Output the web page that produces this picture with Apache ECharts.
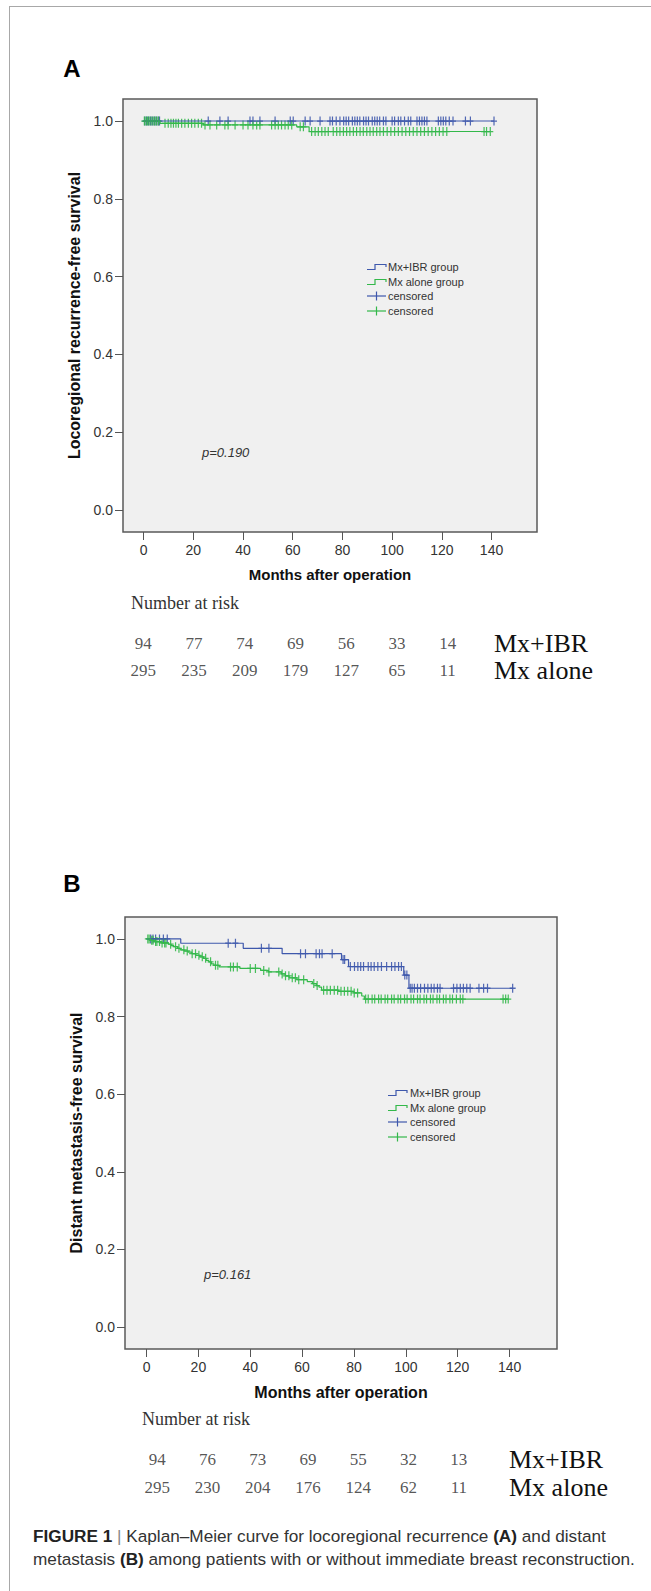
<!DOCTYPE html>
<html>
<head>
<meta charset="utf-8">
<script src="https://cdn.jsdelivr.net/npm/echarts@6/dist/echarts.min.js"></script>
<style>html,body{margin:0;padding:0;background:#fff}#c{width:651px;height:1591px}</style>
</head>
<body>
<div id="c"></div>
<script>
// ---------- data ----------
const xTicks = [0, 20, 40, 60, 80, 100, 120, 140];
const yTicks = [0, 0.2, 0.4, 0.6, 0.8, 1.0];
const riskSlots = ['0', '20', '40', '60', '80', '100', '120'];
const groupNames = ['Mx+IBR', 'Mx alone'];
const legendNames = ['Mx+IBR group', 'Mx alone group', 'censored', 'censored'];

// Panel A: locoregional recurrence
const aIbrStepT = [0, 141];
const aIbrStepS = [1, 1];
const aAloneStepT = [0, 6.6, 24, 61.6, 66.6, 139.5];
const aAloneStepS = [1, 0.994, 0.990, 0.985, 0.973, 0.973];
const aIbrCens = [0.5, 1.2, 2, 2.8, 3.5, 4.3, 5, 5.8, 6.4, 26, 30.7, 34, 42.8, 44, 46.8, 52.9, 59, 60.2, 65, 67, 71, 75, 76, 77.5, 79, 80.5, 81.5, 82.5, 84, 85, 86, 87, 88.5, 89.5, 90.5, 92, 93, 94, 95, 96.5, 97.5, 100, 101, 102.5, 103.5, 105, 106.5, 107.5, 110, 111, 112, 113, 114, 118.6, 119.6, 120.6, 121.6, 123, 124.5, 129.5, 131.5, 141];
const aAloneCens = [0.3, 1, 1.6, 2.2, 3, 3.8, 4.5, 5.2, 6, 8.6, 9.9, 11, 12, 13, 14, 15.3, 16.6, 18, 19.3, 20.6, 22, 23.3, 24.7, 26.7, 29.4, 32.7, 34, 36.8, 40, 42, 44, 45.5, 46.8, 51.5, 52.9, 54.2, 55.5, 56.9, 58.2, 59.6, 63, 64.3, 67.6, 69, 70.3, 71.7, 73, 74.3, 76.3, 77.7, 79, 80.4, 81.7, 83, 84.4, 85.7, 87.1, 88.4, 89.8, 91.1, 92.4, 93.8, 95.1, 96.5, 98, 99.5, 101, 102.5, 104, 105.5, 107, 108.5, 110, 111.5, 113, 114.5, 116, 117.5, 119, 120.5, 122, 137, 138, 139.5];
const aRiskIbr = [94, 77, 74, 69, 56, 33, 14];
const aRiskAlone = [295, 235, 209, 179, 127, 65, 11];
const aPText = 'p=0.190';
const aYName = 'Locoregional recurrence-free survival';

// Panel B: distant metastasis
const bIbrStepT = [0, 13.2, 37.3, 52.3, 75.2, 77.9, 99.2, 101.2, 141.2];
const bIbrStepS = [1, 0.989, 0.976, 0.962, 0.947, 0.929, 0.907, 0.873, 0.873];
const bAloneStepT = [0, 1.5, 3, 5.5, 8.5, 9.5, 10.5, 12, 13, 14.5, 16, 17.5, 19, 20.5, 22, 23, 24, 25, 26, 28, 36, 44, 47, 52, 53.5, 55, 58, 62, 64, 65.5, 66.5, 67.5, 74, 80, 83, 84, 139.5];
const bAloneStepS = [1, 0.9966, 0.9932, 0.9898, 0.9864, 0.983, 0.980, 0.976, 0.972, 0.969, 0.966, 0.962, 0.958, 0.954, 0.950, 0.945, 0.941, 0.936, 0.932, 0.928, 0.924, 0.919, 0.915, 0.910, 0.905, 0.900, 0.895, 0.890, 0.885, 0.880, 0.876, 0.868, 0.865, 0.861, 0.853, 0.845, 0.845];
const bIbrCens = [1.6, 2.5, 3.5, 5, 6.5, 8, 31.5, 34.3, 44.3, 47.2, 59.4, 61.3, 65.4, 66.7, 67.7, 71.6, 75.8, 76.4, 78.6, 80.2, 81.5, 82.6, 83.7, 85.5, 86.6, 87.8, 89.2, 90.6, 92.6, 94.5, 95.8, 97.2, 98.3, 99.6, 100.4, 101.7, 102.4, 103.3, 104.5, 105.7, 107.2, 108.5, 109.8, 110.9, 112.2, 113.2, 118.4, 119.7, 121, 122.2, 123.5, 124.8, 128.2, 130, 131.5, 141.2];
const bAloneCens = [0.5, 1, 2, 2.5, 3.5, 4, 5, 6, 7, 7.5, 9.3, 11.2, 12.5, 14.4, 15.7, 17.6, 18.9, 20.2, 21.5, 22.8, 24.7, 26.6, 27.5, 32.4, 33.5, 35, 40, 42, 45.2, 47.2, 51, 52.3, 53.6, 54.9, 56.2, 57.4, 58.7, 60.6, 64.5, 65.8, 68.3, 69.6, 70.9, 72.4, 73.7, 75, 76.3, 77.6, 78.9, 80.1, 81.4, 84.5, 85.5, 87, 88, 89.5, 90.5, 92, 93, 94.5, 95.5, 97, 98, 99.5, 100.5, 102, 103, 104.5, 105.5, 107, 108, 109.5, 110.5, 112, 113, 114.5, 115.5, 117, 118, 119.5, 121, 122, 137.5, 138.5, 139.5];
const bRiskIbr = [94, 76, 73, 69, 55, 32, 13];
const bRiskAlone = [295, 230, 204, 176, 124, 62, 11];
const bPText = 'p=0.161';
const bYName = 'Distant metastasis-free survival';

const xName = 'Months after operation';
const riskTitle = 'Number at risk';

// ---------- styling ----------
const BLUE = '#3e58ac';
const GREEN = '#33b84a';
const SANS = 'Liberation Sans, Arial, sans-serif';
const SERIF = 'Liberation Serif, Times New Roman, serif';
const PLUS = 'path://M4,0H6V4.3H10V5.7H6V10H4V5.7H0V4.3H4Z';

function survAt(T, S, t) {
  let s = S[0];
  for (let i = 0; i < T.length; i++) if (T[i] <= t) s = S[i];
  return s;
}
function stepData(T, S) { return T.map((t, i) => [t, S[i]]); }
function censData(cens, T, S) { return cens.map(t => [t, survAt(T, S, t)]); }

function plotX(grid, nameGap, nameSize) {
  return {
    type: 'value', gridIndex: grid, min: -8.3, max: 158.3,
    axisLine: { show: false, onZero: false }, splitLine: { show: false },
    axisTick: { show: true, inside: false, length: 8, customValues: xTicks, lineStyle: { color: '#555', width: 1 } },
    axisLabel: { customValues: xTicks, margin: 11, fontSize: 14, color: '#333', fontFamily: SANS },
    name: xName, nameLocation: 'middle', nameGap: nameGap,
    nameTextStyle: { fontWeight: 'bold', fontSize: nameSize, color: '#111', fontFamily: SANS }
  };
}
function plotY(grid, name, nameGap) {
  return {
    type: 'value', gridIndex: grid, min: -0.0566, max: 1.0566,
    axisLine: { show: false, onZero: false }, splitLine: { show: false },
    axisTick: { show: true, inside: false, length: 8, customValues: yTicks, lineStyle: { color: '#555', width: 1 } },
    axisLabel: { customValues: yTicks, margin: 10, fontSize: 14, color: '#333', fontFamily: SANS, formatter: v => v.toFixed(1) },
    name: name, nameLocation: 'middle', nameGap: nameGap, nameRotate: 90,
    nameTextStyle: { fontWeight: 'bold', fontSize: 16, color: '#111', fontFamily: SANS }
  };
}
function tableX(grid) {
  return { type: 'category', gridIndex: grid, data: riskSlots, show: false };
}
function tableY(grid, margin) {
  return {
    type: 'category', gridIndex: grid, data: groupNames, inverse: true, position: 'right',
    axisLine: { show: false }, axisTick: { show: false }, splitLine: { show: false },
    axisLabel: { interval: 0, margin: margin, fontSize: 26, color: '#111', fontFamily: SERIF, align: 'left', hideOverlap: false }
  };
}
function lineSeries(ax, T, S, color) {
  return { type: 'line', xAxisIndex: ax, yAxisIndex: ax, data: stepData(T, S), step: 'end',
    showSymbol: false, symbol: 'none', lineStyle: { color: color, width: 1.2 }, silent: true };
}
function censSeries(ax, cens, T, S, color) {
  return { type: 'scatter', xAxisIndex: ax, yAxisIndex: ax, data: censData(cens, T, S),
    symbol: PLUS, symbolSize: [6, 9], itemStyle: { color: color, opacity: 0.9 }, silent: true };
}
function riskSeries(ax, vals, row) {
  return { type: 'scatter', xAxisIndex: ax, yAxisIndex: ax, data: vals.map((v, i) => [i, row, v]),
    symbolSize: 1, itemStyle: { color: 'rgba(0,0,0,0)' }, silent: true,
    label: { show: true, position: 'inside', formatter: p => String(p.value[2]), fontSize: 17, color: '#2a2a2a', fontFamily: SERIF } };
}
function legendBlock(x, tx, rows) {
  const els = [];
  const cols = [BLUE, GREEN, BLUE, GREEN];
  rows.forEach((y, i) => {
    if (i < 2) {
      els.push({ type: 'polyline', shape: { points: [[x, y + 2.5], [x + 8, y + 2.5], [x + 8, y - 2.5], [x + 19, y - 2.5], [x + 19, y]] },
        style: { stroke: cols[i], lineWidth: 1.2, fill: null }, silent: true });
    } else {
      els.push({ type: 'line', shape: { x1: x, y1: y, x2: x + 19, y2: y }, style: { stroke: cols[i], lineWidth: 1.2 }, silent: true });
      els.push({ type: 'line', shape: { x1: x + 9.5, y1: y - 4.5, x2: x + 9.5, y2: y + 4.5 }, style: { stroke: cols[i], lineWidth: 1.2 }, silent: true });
    }
    els.push({ type: 'text', x: tx, y: y, style: { text: legendNames[i], fontSize: 11, fill: '#333', fontFamily: SANS, verticalAlign: 'middle' }, silent: true });
  });
  return els;
}

const chart = echarts.init(document.getElementById('c'), null, { renderer: 'svg', width: 651, height: 1591 });

const CAP = 17.2;
const graphics = [
  { type: 'line', shape: { x1: 9.5, y1: 6, x2: 9.5, y2: 1591 }, style: { stroke: '#a8a8a8', lineWidth: 1 }, silent: true },
  { type: 'line', shape: { x1: 9.5, y1: 6.5, x2: 651, y2: 6.5 }, style: { stroke: '#a8a8a8', lineWidth: 1 }, silent: true },
  { type: 'text', x: 72, y: 68, style: { text: 'A', fontSize: 24, fontWeight: 'bold', fill: '#000', fontFamily: SANS, align: 'center', verticalAlign: 'middle' }, silent: true },
  { type: 'text', x: 72, y: 883, style: { text: 'B', fontSize: 24, fontWeight: 'bold', fill: '#000', fontFamily: SANS, align: 'center', verticalAlign: 'middle' }, silent: true },
  { type: 'text', x: 202, y: 452.5, style: { text: aPText, fontSize: 13, fontStyle: 'italic', fill: '#333', fontFamily: SANS, verticalAlign: 'middle' }, silent: true },
  { type: 'text', x: 204, y: 1274, style: { text: bPText, fontSize: 13, fontStyle: 'italic', fill: '#333', fontFamily: SANS, verticalAlign: 'middle' }, silent: true },
  { type: 'text', x: 131, y: 603, style: { text: riskTitle, fontSize: 18, fill: '#333', fontFamily: SERIF, verticalAlign: 'middle' }, silent: true },
  { type: 'text', x: 142, y: 1419, style: { text: riskTitle, fontSize: 18, fill: '#333', fontFamily: SERIF, verticalAlign: 'middle' }, silent: true },
  { type: 'text', x: 33, y: 1536, style: {
      text: '{b|FIGURE 1} {s||} Kaplan–Meier curve for locoregional recurrence {b|(A)} and distant',
      fontSize: CAP, fill: '#333', fontFamily: SANS, verticalAlign: 'middle',
      rich: { b: { fontWeight: 'bold', fontSize: CAP, fill: '#222', fontFamily: SANS }, s: { fill: '#888', fontSize: CAP, fontFamily: SANS } } }, silent: true },
  { type: 'text', x: 33, y: 1559, style: {
      text: 'metastasis {b|(B)} among patients with or without immediate breast reconstruction.',
      fontSize: CAP, fill: '#333', fontFamily: SANS, verticalAlign: 'middle',
      rich: { b: { fontWeight: 'bold', fontSize: CAP, fill: '#222', fontFamily: SANS } } }, silent: true }
].concat(legendBlock(367, 388, [267, 282, 296, 311]), legendBlock(388, 410, [1093, 1108, 1122, 1137]));

chart.setOption({
  animation: false,
  backgroundColor: '#fff',
  grid: [
    { left: 123, top: 99, width: 414, height: 433, show: true, backgroundColor: '#f0f0f0', borderColor: '#595959', borderWidth: 1.5 },
    { left: 118, top: 630, width: 355, height: 54 },
    { left: 125, top: 917, width: 432, height: 432, show: true, backgroundColor: '#f0f0f0', borderColor: '#595959', borderWidth: 1.5 },
    { left: 132, top: 1445, width: 352, height: 56 }
  ],
  xAxis: [plotX(0, 35, 15), tableX(1), plotX(2, 35, 16), tableX(3)],
  yAxis: [plotY(0, aYName, 38), tableY(1, 21), plotY(2, bYName, 39), tableY(3, 25)],
  series: [
    lineSeries(0, aIbrStepT, aIbrStepS, BLUE),
    lineSeries(0, aAloneStepT, aAloneStepS, GREEN),
    censSeries(0, aIbrCens, aIbrStepT, aIbrStepS, BLUE),
    censSeries(0, aAloneCens, aAloneStepT, aAloneStepS, GREEN),
    riskSeries(1, aRiskIbr, 0),
    riskSeries(1, aRiskAlone, 1),
    lineSeries(2, bIbrStepT, bIbrStepS, BLUE),
    lineSeries(2, bAloneStepT, bAloneStepS, GREEN),
    censSeries(2, bIbrCens, bIbrStepT, bIbrStepS, BLUE),
    censSeries(2, bAloneCens, bAloneStepT, bAloneStepS, GREEN),
    riskSeries(3, bRiskIbr, 0),
    riskSeries(3, bRiskAlone, 1)
  ],
  graphic: graphics
});
</script>
</body>
</html>
